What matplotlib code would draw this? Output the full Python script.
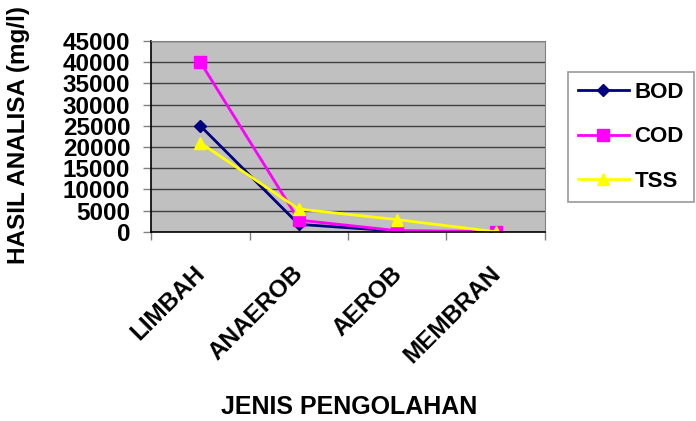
import numpy as np
import matplotlib.pyplot as plt
import matplotlib.transforms as mtransforms

plt.rcParams['font.family'] = ['Liberation Sans', 'DejaVu Sans']

# Data
categories = ['LIMBAH', 'ANAEROB', 'AEROB', 'MEMBRAN']
bod = [25000, 1800, 200, 50]
cod = [40000, 2800, 300, 100]
tss = [21000, 5400, 2900, 50]
y_ticks = [0, 5000, 10000, 15000, 20000, 25000, 30000, 35000, 40000, 45000]

fig = plt.figure(figsize=(6.96, 4.21), dpi=100)
ax = fig.add_axes([0.217, 0.449, 0.566, 0.454])
ax.set_facecolor('#C0C0C0')

x = np.arange(len(categories))
ax.plot(x, bod, color='#000080', marker='D', markersize=6, lw=2, label='BOD')
ax.plot(x, cod, color='#FF00FF', marker='s', markersize=8, lw=2, label='COD')
ax.plot(x, tss, color='#FFFF00', marker='^', markersize=9, lw=2, label='TSS')

ax.set_xlim(-0.5, len(categories) - 0.5)
ax.set_ylim(0, 45000)
ax.set_yticks(y_ticks)
ax.set_yticklabels([str(v) for v in y_ticks], fontsize=17.5, fontweight='bold')
ax.yaxis.grid(True, color='#404040', lw=1)
ax.set_axisbelow(True)

# ticks at category boundaries, labels at centres
ax.set_xticks(np.arange(-0.5, len(categories), 1.0))
ax.set_xticklabels([])
ax.tick_params(axis='x', length=6, color='#808080', width=1)
ax.tick_params(axis='y', length=6, color='#808080', width=1, pad=9)
offset = mtransforms.ScaledTranslation(-7 / 100, -30 / 100, fig.dpi_scale_trans)
for i, name in enumerate(categories):
    ax.text(i, 0, name, transform=mtransforms.blended_transform_factory(ax.transData, ax.transAxes) + offset,
            rotation=45, rotation_mode='anchor', ha='right', va='top',
            fontsize=17.5, fontweight='bold')

for s in ['top', 'right']:
    ax.spines[s].set_color('#808080')
for s in ['left', 'bottom']:
    ax.spines[s].set_color('black')
    ax.spines[s].set_linewidth(1.2)

fig.text(0.026, 0.68, 'HASIL ANALISA (mg/l)', rotation=90, ha='center', va='center',
         fontsize=17.5, fontweight='bold')
fig.text(0.501, 0.033, 'JENIS PENGOLAHAN', ha='center', va='center',
         fontsize=18, fontweight='bold')

leg = fig.legend(loc='upper left', bbox_to_anchor=(0.816, 0.829), frameon=True,
                 fancybox=False, edgecolor='#808080', prop={'size': 16, 'weight': 'bold'},
                 handlelength=2.3, labelspacing=1.05, handletextpad=0.25, borderpad=0.45,
                 borderaxespad=0)
leg.get_frame().set_linewidth(1.2)

fig.savefig('out.png', dpi=100)
